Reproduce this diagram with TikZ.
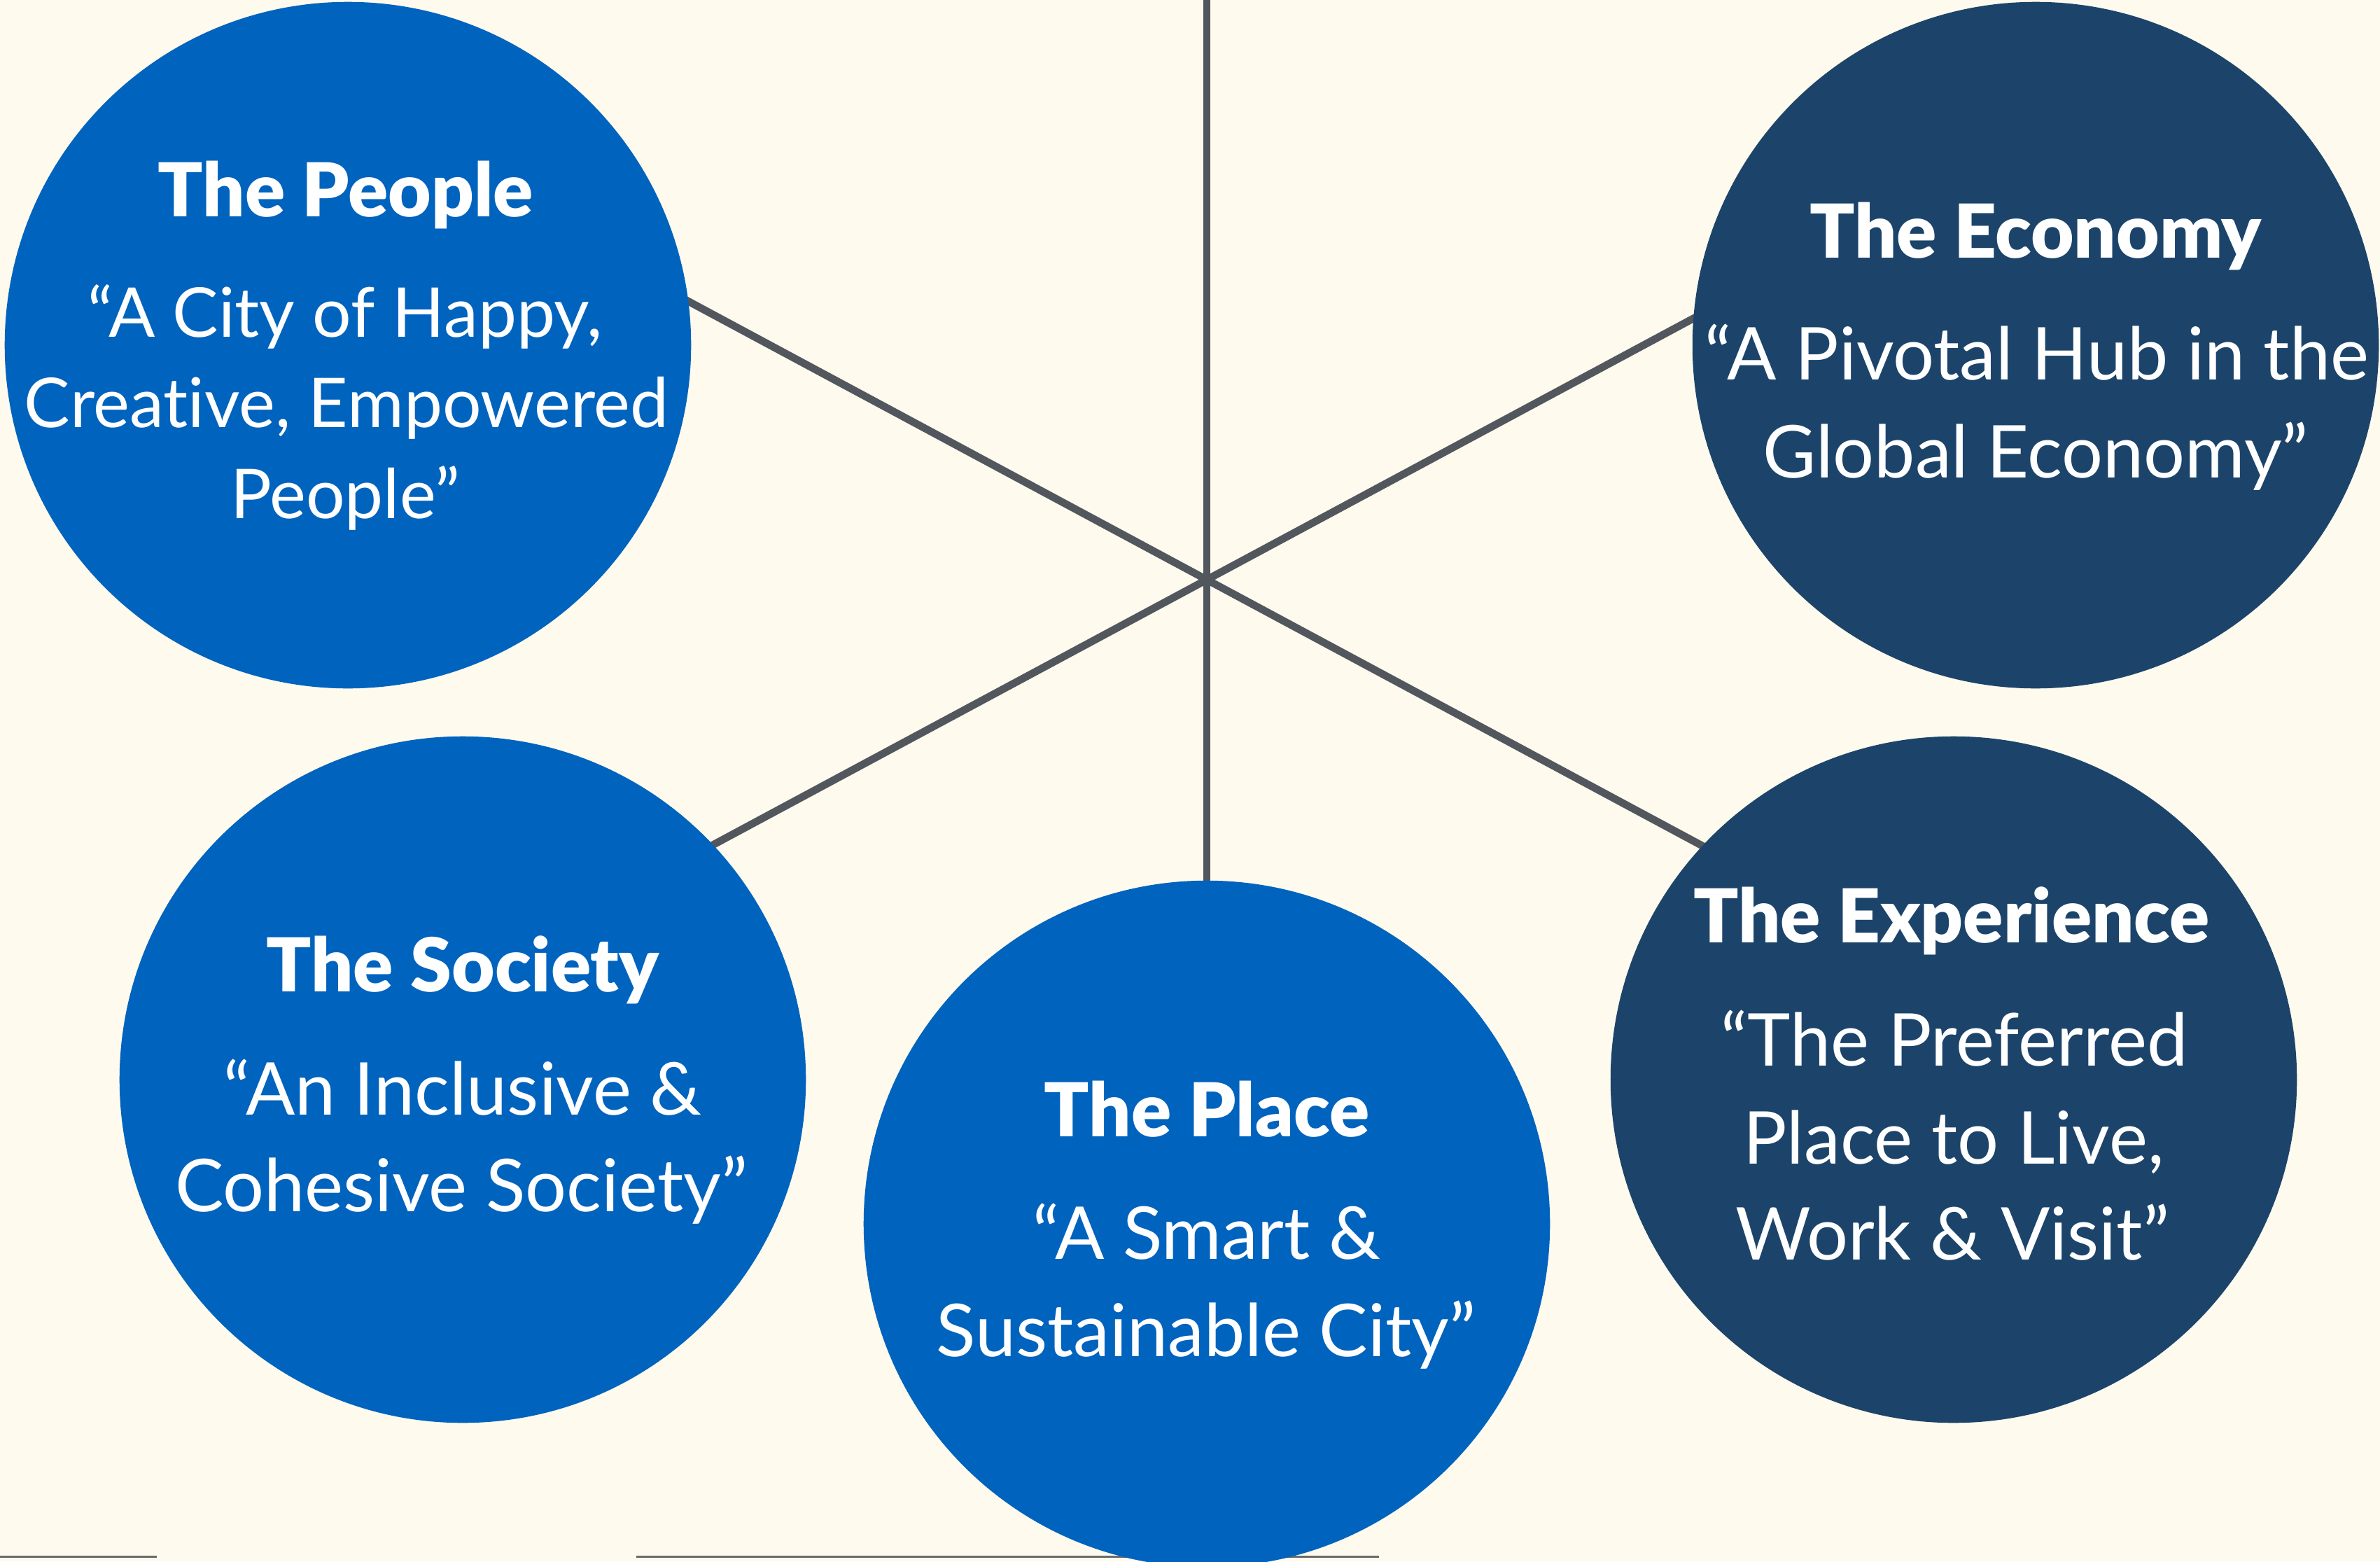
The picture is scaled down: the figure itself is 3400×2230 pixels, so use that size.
\documentclass[tikz,border=0pt]{standalone}
\usepackage{fontspec}
\setmainfont{Lato}[Ligatures=NoCommon]
\newfontfamily\heavyfont{Lato Black}[Ligatures=NoCommon]
\definecolor{bg}{RGB}{254,250,237}
\definecolor{bright}{RGB}{0,99,190}
\definecolor{navy}{RGB}{28,68,106}
\definecolor{spoke}{RGB}{82,87,94}
\definecolor{rulecol}{RGB}{102,108,108}
\begin{document}
\begin{tikzpicture}[x=0.01cm,y=-0.01cm,
  disc/.style={circle, minimum size=9.8cm, inner sep=0pt, draw=none},
  spokeline/.style={draw=spoke, line width=3.05pt},
  baseline rule/.style={draw=rulecol, line width=0.85pt},
  ttl/.style={anchor=base, text=white, inner sep=0pt, font=\fontsize{30.2}{36}\selectfont\heavyfont},
  qt/.style={anchor=base, text=white, inner sep=0pt, font=\fontsize{29.6}{35}\selectfont},
  ttlsm/.style={ttl},
  qtsm/.style={qt, font=\fontsize{27.9}{33}\selectfont},
]
\fill[bg] (0,0) rectangle (3400,2230);
\useasboundingbox (0,0) rectangle (3400,2230);

% hub and spoke end points
\coordinate (hub) at (1724,828);
\coordinate (top) at (1724,0);
\coordinate (a1) at (843,355);
\coordinate (b1) at (2605,1301);
\coordinate (a2) at (2605,355);
\coordinate (b2) at (843,1301);
\coordinate (r1s) at (0,2223);
\coordinate (r1e) at (224,2223);
\coordinate (r2s) at (909,2223);
\coordinate (r2e) at (1970,2223);

% spokes and rules, drawn below the circles
\path[spokeline] (a1) -- (hub) -- (b1);
\path[spokeline] (a2) -- (hub) -- (b2);
\path[spokeline] (top) -- (1724,1748);
\path[baseline rule] (r1s) -- (r1e);
\path[baseline rule] (r2s) -- (r2e);

\node[disc, fill=bright] (people) at (497,493) {};
\node[disc, fill=navy] (economy) at (2908,493) {};
\node[disc, fill=bright] (society) at (661,1542) {};
\node[disc, fill=bright] (place) at (1724,1748) {};
\node[disc, fill=navy] (experience) at (2791,1542) {};

% The People
\node[ttlsm] (p0) at (494,309) {The People};
\node[qtsm] (p1) at (493,481) {“A City of Happy,};
\node[qtsm] (p2) at (495,610) {Creative, Empowered};
\node[qtsm] (p3) at (493,740) {People”};

% The Economy
\node[ttl] (e0) at (2908,368) {The Economy};
\node[qt] (e1) at (2910,542) {“A Pivotal Hub in the};
\node[qt] (e2) at (2908,682) {Global Economy”};

% The Society
\node[ttl] (s0) at (661,1416) {The Society};
\node[qt] (s1) at (661,1592) {“An Inclusive \&};
\node[qt] (s2) at (659,1730) {Cohesive Society”};

% The Place
\node[ttl] (c0) at (1724,1623) {The Place};
\node[qt] (c1) at (1724,1798) {“A Smart \&};
\node[qt] (c2) at (1723,1937) {Sustainable City”};

% The Experience
\node[ttl] (x0) at (2788,1346) {The Experience};
\node[qt] (x1) at (2792,1522) {“The Preferred};
\node[qt] (x2) at (2791,1662) {Place to Live,};
\node[qt] (x3) at (2789,1799) {Work \& Visit”};
\end{tikzpicture}
\end{document}
